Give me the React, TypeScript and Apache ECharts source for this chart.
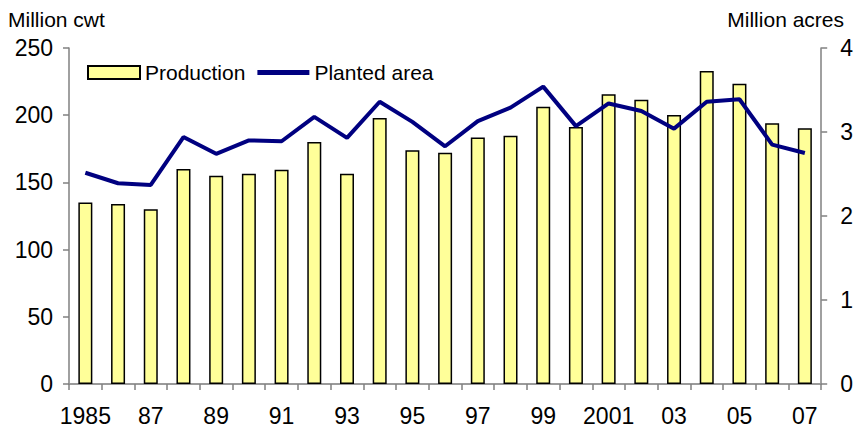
import React, { useEffect, useRef } from "react";
import * as echarts from "echarts";

const years = ["1985","1986","1987","1988","1989","1990","1991","1992","1993","1994","1995","1996","1997","1998","1999","2000","2001","2002","2003","2004","2005","2006","2007"];
const tickLabels: Record<string, string> = {
  "1985": "1985", "1987": "87", "1989": "89", "1991": "91", "1993": "93", "1995": "95",
  "1997": "97", "1999": "99", "2001": "2001", "2003": "03", "2005": "05", "2007": "07",
};
const production = [135, 134, 130, 160, 155, 156.5, 159.5, 180, 156.5, 198, 174, 172, 183.5, 184.7, 206.3, 191.2, 215.5, 211.5, 200.1, 232.9, 223.4, 194, 190.2];
const plantedArea = [2.515, 2.39, 2.37, 2.94, 2.74, 2.9, 2.89, 3.18, 2.93, 3.36, 3.12, 2.83, 3.13, 3.29, 3.54, 3.07, 3.34, 3.25, 3.04, 3.36, 3.39, 2.85, 2.75];

const FONT = "'Liberation Sans', Arial, sans-serif";

export default function App() {
  const ref = useRef<HTMLDivElement>(null);
  useEffect(() => {
    if (!ref.current) return;
    const chart = echarts.init(ref.current, null, { renderer: "svg" });
    chart.setOption({
      animation: false,
      textStyle: { fontFamily: FONT },
      grid: { left: 69, right: 33, top: 48, bottom: 45, containLabel: false },
      legend: {
        left: 82,
        top: 57,
        itemWidth: 52,
        itemHeight: 13,
        itemGap: 12,
        textStyle: { fontSize: 21, color: "#000", fontFamily: FONT },
        data: [
          { name: "Production", icon: "rect" },
          { name: "Planted area", icon: "path://M0,0 L52,0 L52,5 L0,5 Z", itemStyle: { color: "#000080" } },
        ],
      },
      graphic: [
        { type: "text", left: 8, top: 9, style: { text: "Million cwt", fontSize: 21, fill: "#000", fontFamily: FONT } },
        { type: "text", right: 12, top: 9, style: { text: "Million acres", fontSize: 21, fill: "#000", fontFamily: FONT } },
      ],
      xAxis: [
        {
          type: "category",
          data: years,
          position: "bottom",
          axisLine: { lineStyle: { color: "#808080", width: 1.5 } },
          axisTick: { show: true, length: 6, interval: 0, lineStyle: { color: "#808080", width: 1.5 } },
          axisLabel: {
            interval: 0,
            margin: 20,
            fontSize: 23,
            color: "#000",
            fontFamily: FONT,
            formatter: (v: string) => tickLabels[v] ?? "",
          },
        },
        {
          type: "category",
          data: years,
          position: "top",
          axisLine: { show: true, lineStyle: { color: "#999", width: 1.5 } },
          axisTick: { show: false },
          axisLabel: { show: false },
        },
      ],
      yAxis: [
        {
          type: "value",
          min: 0,
          max: 250,
          interval: 50,
          splitLine: { show: false },
          axisLine: { show: true, lineStyle: { color: "#808080", width: 1.5 } },
          axisTick: { show: true, length: 6, lineStyle: { color: "#808080", width: 1.5 } },
          axisLabel: { fontSize: 23, color: "#000", margin: 16, fontFamily: FONT },
        },
        {
          type: "value",
          min: 0,
          max: 4,
          interval: 1,
          position: "right",
          splitLine: { show: false },
          axisLine: { show: true, lineStyle: { color: "#808080", width: 1.5 } },
          axisTick: { show: true, length: 6, lineStyle: { color: "#808080", width: 1.5 } },
          axisLabel: { fontSize: 23, color: "#000", margin: 19, fontFamily: FONT },
        },
      ],
      series: [
        {
          name: "Production",
          type: "bar",
          data: production,
          xAxisIndex: 0,
          yAxisIndex: 0,
          barWidth: 14,
          itemStyle: { color: "#FFFF99", borderColor: "#000", borderWidth: 1.5 },
        },
        {
          name: "Planted area",
          type: "line",
          data: plantedArea,
          xAxisIndex: 0,
          yAxisIndex: 1,
          symbol: "none",
          lineStyle: { color: "#000080", width: 4 },
          itemStyle: { color: "#000080" },
        },
      ],
    });
    return () => chart.dispose();
  }, []);
  return <div ref={ref} style={{ width: 856, height: 429, position: "absolute", left: 0, top: 0 }} />;
}
